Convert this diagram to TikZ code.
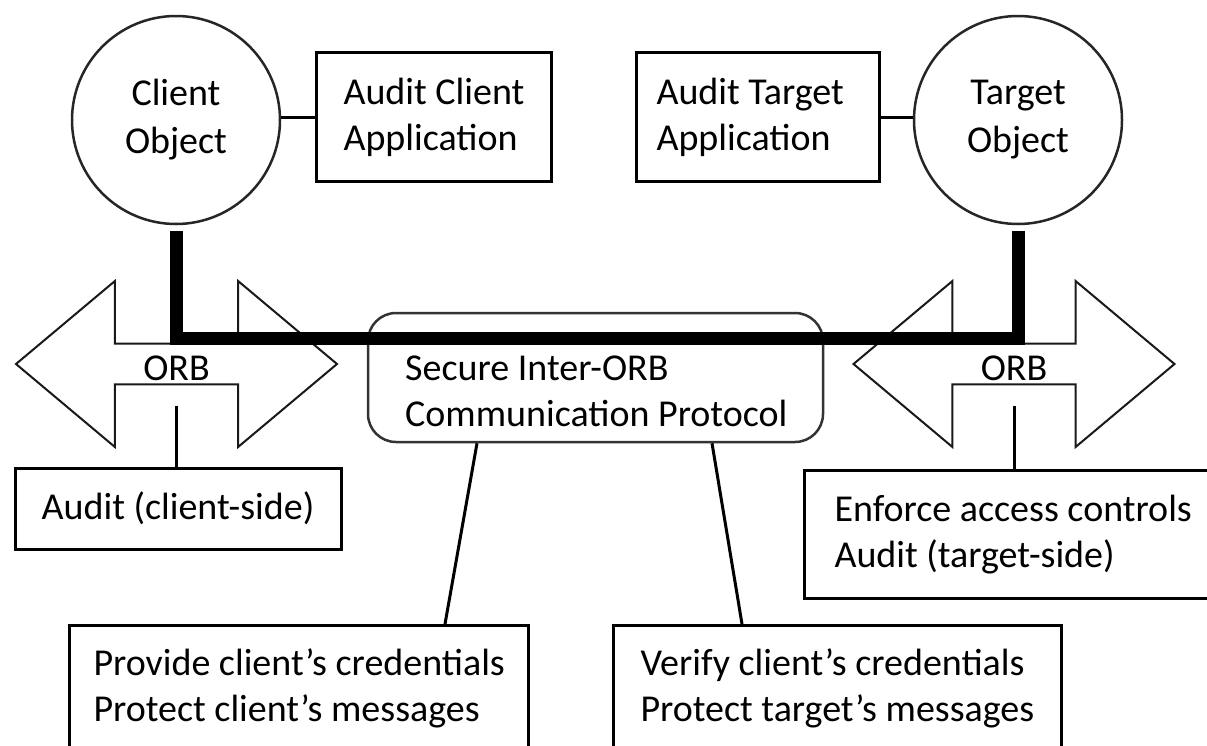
\documentclass[tikz,border=0pt]{standalone}
\usepackage{fontspec}
\setmainfont{Carlito}
\usetikzlibrary{calc,positioning,shapes.arrows}

\begin{document}
\begin{tikzpicture}[x=1pt,y=-1pt,font=\fontsize{38}{46}\selectfont,
    obj/.style={circle,draw=black!85,line width=2.5pt,minimum size=208pt,inner sep=0pt,align=center},
    box/.style={draw,line width=3pt,inner sep=0pt,align=left},
    orb/.style={double arrow,draw=black!90,line width=2pt,minimum height=321pt,minimum width=166pt,
                double arrow head extend=41.5pt,double arrow tip angle=80,inner sep=0pt},
    link/.style={line width=3pt},
    bus/.style={line width=13pt,line join=miter}]
    \useasboundingbox (0,0) rectangle (1207,745);
    \clip (0,0) rectangle (1207,745);

    \node[obj] (client) at (176,120) {Client\\[2pt]Object};
    \node[obj] (target) at (1018,120) {Target\\[2pt]Object};
    \node[box,anchor=west,minimum height=129pt,inner xsep=27pt] (cliapp) at (315,117) {Audit Client\\Application};
    \node[box,anchor=west,minimum height=129pt,inner xsep=20pt,text width=203pt,align=flush left] (tgtapp) at (635,117) {Audit Target\\Application};

    \draw[link] (client.east |- cliapp.west) -- (cliapp.west);
    \draw[link] (tgtapp.east) -- (target.west |- tgtapp.east);

    \node[orb] (orbL) at (176.5,364) {\raisebox{-4pt}[\height][\depth]{ORB}};
    \node[orb] (orbR) at (1014,364) {\raisebox{-4pt}[\height][\depth]{ORB}};

    \node[draw=black!80,line width=2.5pt,rounded corners=28pt,minimum width=455pt,minimum height=129pt] (sciop) at (595.5,377.5) {};
    \node[anchor=west,align=left,inner sep=0pt] (sciopText) at (405,391) {Secure Inter-ORB\\Communication Protocol};

    \coordinate (busL) at (176,338);
    \coordinate (busR) at (1018,338);
    \draw[bus] (176,231) -- (busL) -- (busR) -- (1018,231);

    \node[box,minimum width=326pt,minimum height=81pt,align=center] (clientside) at (178,508.5) {Audit (client-side)};
    \node[box,anchor=north west,minimum height=128pt,inner xsep=30pt] (enforce) at (803,469) {Enforce access controls\\Audit (target-side)};
    \node[box,anchor=north west,minimum height=125pt,inner xsep=24pt] (provide) at (68,624) {Provide client's credentials\\Protect client's messages};
    \node[box,anchor=north west,minimum height=125pt,inner xsep=27pt] (verify) at (612,624) {Verify client's credentials\\Protect target's messages};

    \draw[link] ([yshift=-41.5pt]orbL.center) -- (clientside.north -| orbL.center);
    \draw[link] ([yshift=-41.5pt]orbR.center) -- (enforce.north -| orbR.center);
    \draw[link] ([xshift=-118.5pt]sciop.south) -- ([xshift=377pt]provide.north west);
    \draw[link] ([xshift=116.5pt]sciop.south) -- ([xshift=130pt]verify.north west);
\end{tikzpicture}
\end{document}
